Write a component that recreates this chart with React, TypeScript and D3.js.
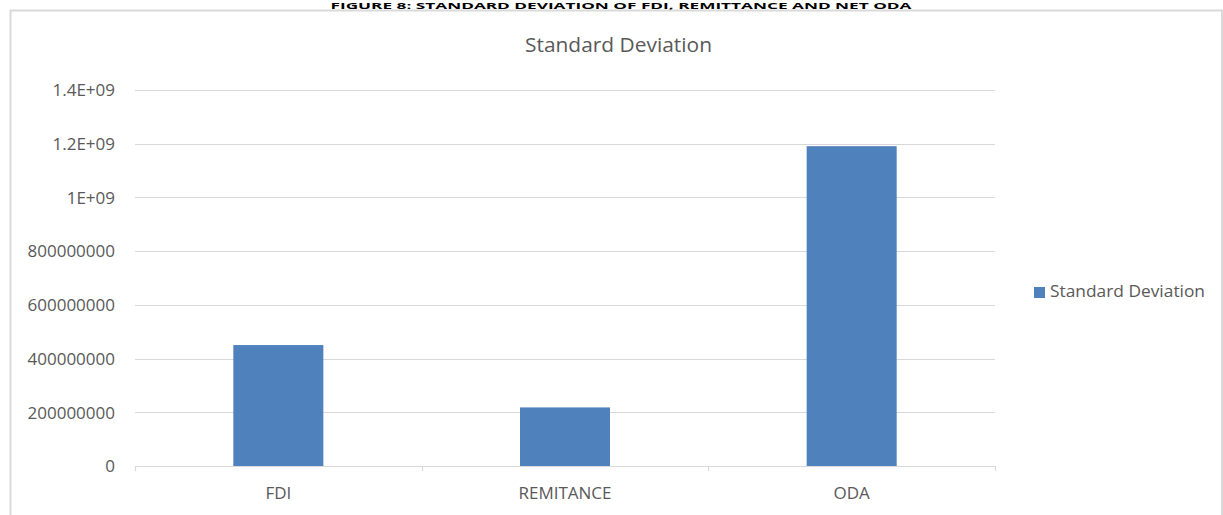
import React from "react";
import * as d3 from "d3";

// Standard deviation of each inflow series
const categories = ["FDI", "REMITANCE", "ODA"];
const stdDevValues = [450000000, 218000000, 1190000000];
const yTickValues = [0, 200000000, 400000000, 600000000, 800000000, 1000000000, 1200000000, 1400000000];
const yTickLabels = ["0", "200000000", "400000000", "600000000", "800000000", "1E+09", "1.2E+09", "1.4E+09"];
const seriesName = "Standard Deviation";
const figureCaption = "FIGURE 8: STANDARD DEVIATION OF FDI, REMITTANCE AND NET ODA";

const W = 1223;
const H = 515;
const plot = { left: 135, right: 995, top: 89.75, bottom: 466 };
const FONT = "'Open Sans', 'Noto Sans', sans-serif";
const TEXT = "#595959";
const GRID = "#d9d9d9";
const BAR = "#4f81bd";

export default function App() {
  const x = d3
    .scaleBand<string>()
    .domain(categories)
    .range([plot.left, plot.right])
    .paddingInner(0.686)
    .paddingOuter(0.343);
  const y = d3.scaleLinear().domain([0, 1400000000]).range([plot.bottom, plot.top]);
  const step = x.step();
  const boundaries = d3.range(categories.length + 1).map((i) => plot.left + i * step);

  return (
    <svg
      width={W}
      height={H}
      style={{ position: "absolute", left: 0, top: 0, background: "#fff" }}
      fontFamily={FONT}
    >
      <rect x={0} y={0} width={W} height={H} fill="#fff" />
      {/* caption above the chart frame */}
      <text
        x={621}
        y={9.2}
        textAnchor="middle"
        fontWeight="bold"
        fontSize={8.5}
        fill="#000"
        textLength={581}
        lengthAdjust="spacingAndGlyphs"
      >
        {figureCaption}
      </text>
      {/* chart frame */}
      <rect x={10.5} y={10.5} width={1211.5} height={520} fill="none" stroke={GRID} strokeWidth={2} />

      <text
        x={618.5}
        y={52.3}
        textAnchor="middle"
        fontSize={20}
        fill={TEXT}
        textLength={187}
        lengthAdjust="spacingAndGlyphs"
      >
        {seriesName}
      </text>

      {/* gridlines and y labels */}
      {yTickValues.map((v, i) => (
        <g key={v}>
          <line
            x1={plot.left}
            x2={plot.right}
            y1={Math.round(y(v)) + 0.5}
            y2={Math.round(y(v)) + 0.5}
            stroke={GRID}
            strokeWidth={1.2}
          />
          <text x={115} y={y(v) + 6.3} textAnchor="end" fontSize={17} fill={TEXT}>
            {yTickLabels[i]}
          </text>
        </g>
      ))}

      {/* bars */}
      {categories.map((c, i) => (
        <rect
          key={c}
          x={x(c)}
          y={y(stdDevValues[i])}
          width={x.bandwidth()}
          height={y(0) - y(stdDevValues[i])}
          fill={BAR}
        />
      ))}

      {/* category axis */}
      <line
        x1={plot.left}
        x2={plot.right}
        y1={Math.round(y(0)) + 0.5}
        y2={Math.round(y(0)) + 0.5}
        stroke={GRID}
        strokeWidth={1.2}
      />
      {boundaries.map((bx, i) => (
        <line
          key={i}
          x1={Math.round(bx) + 0.5}
          x2={Math.round(bx) + 0.5}
          y1={y(0)}
          y2={y(0) + 5}
          stroke={GRID}
          strokeWidth={1.2}
        />
      ))}
      {categories.map((c) => (
        <text
          key={c}
          x={(x(c) as number) + x.bandwidth() / 2}
          y={499}
          textAnchor="middle"
          fontSize={17}
          fill={TEXT}
        >
          {c}
        </text>
      ))}

      {/* legend */}
      <rect x={1034} y={287} width={11} height={11} fill={BAR} />
      <text x={1050} y={297} fontSize={17} fill={TEXT} textLength={155} lengthAdjust="spacingAndGlyphs">
        {seriesName}
      </text>
    </svg>
  );
}
